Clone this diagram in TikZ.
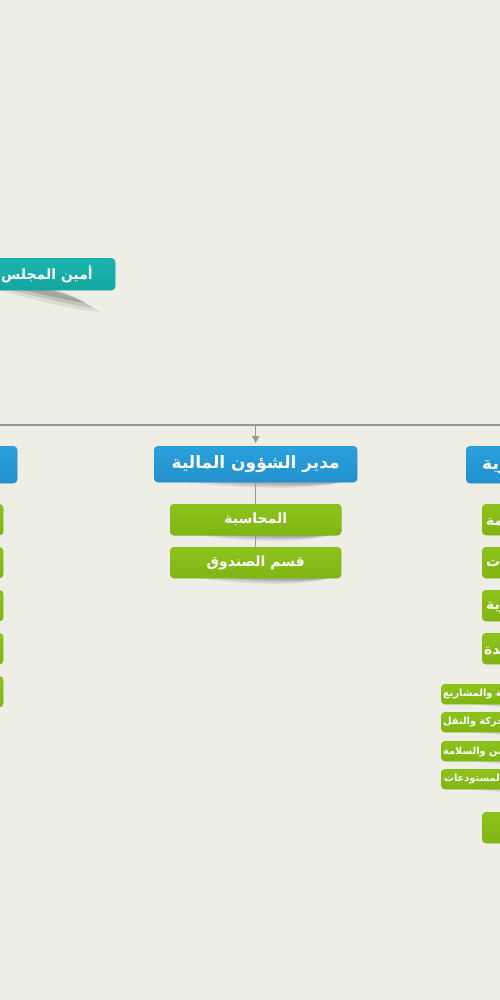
\documentclass[tikz,border=0pt]{standalone}
\usepackage{fontspec}
\TeXXeTstate=1
\newfontfamily\arabicfont[Script=Arabic]{DejaVu Sans}
\usetikzlibrary{arrows.meta}
\definecolor{bg}{RGB}{238,237,230}
\definecolor{bluebox}{RGB}{43,160,220}
\definecolor{bluedark}{RGB}{33,145,205}
\definecolor{tealbox}{RGB}{27,180,175}
\definecolor{tealdark}{RGB}{20,165,160}
\definecolor{greenbox}{RGB}{142,195,28}
\definecolor{greendark}{RGB}{128,180,20}
\definecolor{connc}{RGB}{150,150,150}
\newcommand\ar[1]{\arabicfont\bfseries\beginR #1\endR}
\newcommand\boxshadow[3]{%
  \fill[black,opacity=0.08] ({#1+2},{#3-3}) .. controls ({#1+0.35*(#2-#1)},{#3+5}) and ({#1+0.75*(#2-#1)},{#3+12}) .. ({#2+1},{#3-3}) -- cycle;
  \fill[black,opacity=0.10] ({#1+10},{#3-3}) .. controls ({#1+0.4*(#2-#1)},{#3+4}) and ({#1+0.8*(#2-#1)},{#3+9}) .. ({#2-2},{#3-3}) -- cycle;
  \fill[black,opacity=0.12] ({#1+30},{#3-3}) .. controls ({#1+0.5*(#2-#1)},{#3+3}) and ({#1+0.85*(#2-#1)},{#3+6}) .. ({#2-4},{#3-3}) -- cycle;
}
\begin{document}
\begin{tikzpicture}[x=1pt,y=-1pt,
  base/.style={rounded corners=4pt, inner sep=0pt, anchor=north west, text=white},
  blueb/.style={base, top color=bluebox, bottom color=bluedark, draw=bluedark, line width=0.4pt},
  tealb/.style={base, top color=tealbox, bottom color=tealdark, draw=tealdark, line width=0.4pt},
  greenb/.style={base, top color=greenbox, bottom color=greendark, draw=greendark, line width=0.4pt},
  bigtxt/.style={text=white, inner sep=0pt, font=\fontsize{17}{20}\selectfont},
  midtxt/.style={text=white, inner sep=0pt, font=\fontsize{14}{16}\selectfont},
  smalltxt/.style={text=white, inner sep=0pt, font=\fontsize{9.8}{12}\selectfont},
  conn/.style={draw=connc, line width=1.5pt},
]
\useasboundingbox (0,0) rectangle (500,1000);
\clip (0,0) rectangle (500,1000);
\fill[bg] (0,0) rectangle (500,1000);

% top-left secretary box
\fill[black,opacity=0.07] (-5,289) .. controls (35,300) and (70,310) .. (100,312) .. controls (85,300) and (60,292) .. (40,289) -- cycle;
\fill[black,opacity=0.11] (5,289) .. controls (40,297) and (70,305) .. (93,308) .. controls (80,298) and (60,292) .. (45,289) -- cycle;
\fill[black,opacity=0.15] (20,289) .. controls (45,295) and (65,300) .. (85,303) .. controls (75,296) and (60,291) .. (50,289) -- cycle;
\node[tealb, minimum width=215pt, minimum height=32pt] (sec) at (-100,258) {};
\node[text=white, inner sep=0pt, anchor=east, font=\fontsize{14}{16}\selectfont] (sect) at (93,274) {\ar{أمين المجلس}};

% horizontal bus
\coordinate (busL) at (0,425);
\coordinate (busR) at (500,425);
\draw[conn] (busL) -- (busR);

% shadows
\boxshadow{154}{357}{482}
\boxshadow{170}{341}{535}
\boxshadow{170}{341}{578}
\boxshadow{-180}{17}{482}
\foreach \t in {535,578,621,664,707} {\boxshadow{-170}{3}{\t}}
\boxshadow{466}{680}{482}
\foreach \t in {535,578,621,664} {\boxshadow{482}{680}{\t}}
\foreach \t in {704,732,761,789} {\boxshadow{441}{640}{\t}}
\boxshadow{482}{680}{843}

% center column
\node[blueb, minimum width=203pt, minimum height=36pt] (fin) at (154,446) {};
\coordinate (drop) at (fin.north |- busL);
\draw[conn, -{Triangle[length=7pt,width=7pt]}, shorten >=3pt] (drop) -- (fin.north);
\node[bigtxt] (fint) at (fin.center) {\ar{مدير الشؤون المالية}};
\node[greenb, minimum width=171pt, minimum height=31pt] (acc) at (170,504) {};
\node[greenb, minimum width=171pt, minimum height=31pt] (cash) at (170,547) {};
\begin{scope}
\clip (0,482) rectangle (500,547);
\draw[conn] (fin.south) -- (cash.north);
\end{scope}
\node[greenb, minimum width=171pt, minimum height=31pt] at (acc.north west) {};
\node[midtxt] (acct) at (acc.center) {\ar{المحاسبة}};
\node[midtxt] (casht) at (cash.center) {\ar{قسم الصندوق}};

% left column (mostly off the picture)
\node[blueb, minimum width=200pt, minimum height=37pt] (lhead) at (-183,446) {};
\node[greenb, minimum width=170pt, minimum height=31pt] (l1) at (-167,504) {};
\node[greenb, minimum width=170pt, minimum height=31pt] (l2) at (-167,547) {};
\node[greenb, minimum width=170pt, minimum height=31pt] (l3) at (-167,590) {};
\node[greenb, minimum width=170pt, minimum height=31pt] (l4) at (-167,633) {};
\node[greenb, minimum width=170pt, minimum height=31pt] (l5) at (-167,676) {};

% right column (mostly off the picture)
\node[blueb, minimum width=210pt, minimum height=37pt] (rhead) at (466,446) {};
\node[bigtxt, anchor=west] (rheadt) at (482,465) {\ar{مدير الشؤون الإدارية}};
\node[greenb, minimum width=190pt, minimum height=31pt] (r1) at (482,504) {};
\node[greenb, minimum width=190pt, minimum height=31pt] (r2) at (482,547) {};
\node[greenb, minimum width=190pt, minimum height=31pt] (r3) at (482,590) {};
\node[greenb, minimum width=190pt, minimum height=31pt] (r4) at (482,633) {};
\node[midtxt, anchor=west] (r1t) at (486,520) {\ar{الخدمات العامة}};
\node[midtxt, anchor=west] (r2t) at (486,563) {\ar{قسم المشتريات}};
\node[midtxt, anchor=west] (r3t) at (486,606) {\ar{الموارد البشرية}};
\node[midtxt, anchor=west] (r4t) at (484,649) {\ar{الخدمات المساندة}};
\node[greenb, minimum width=200pt, minimum height=20pt] (s1) at (441,684) {};
\node[greenb, minimum width=200pt, minimum height=20pt] (s2) at (441,712) {};
\node[greenb, minimum width=200pt, minimum height=20pt] (s3) at (441,741) {};
\node[greenb, minimum width=200pt, minimum height=20pt] (s4) at (441,769) {};
\node[smalltxt, anchor=west] (s1t) at (443,694) {\ar{الصيانة والمشاريع}};
\node[smalltxt, anchor=west] (s2t) at (443,722) {\ar{الحركة والنقل}};
\node[smalltxt, anchor=west] (s3t) at (443,751) {\ar{الأمن والسلامة}};
\node[smalltxt, anchor=west] (s4t) at (444,779) {\ar{قسم المستودعات}};
\node[greenb, minimum width=190pt, minimum height=31pt] (r5) at (482,812) {};
\end{tikzpicture}
\end{document}
